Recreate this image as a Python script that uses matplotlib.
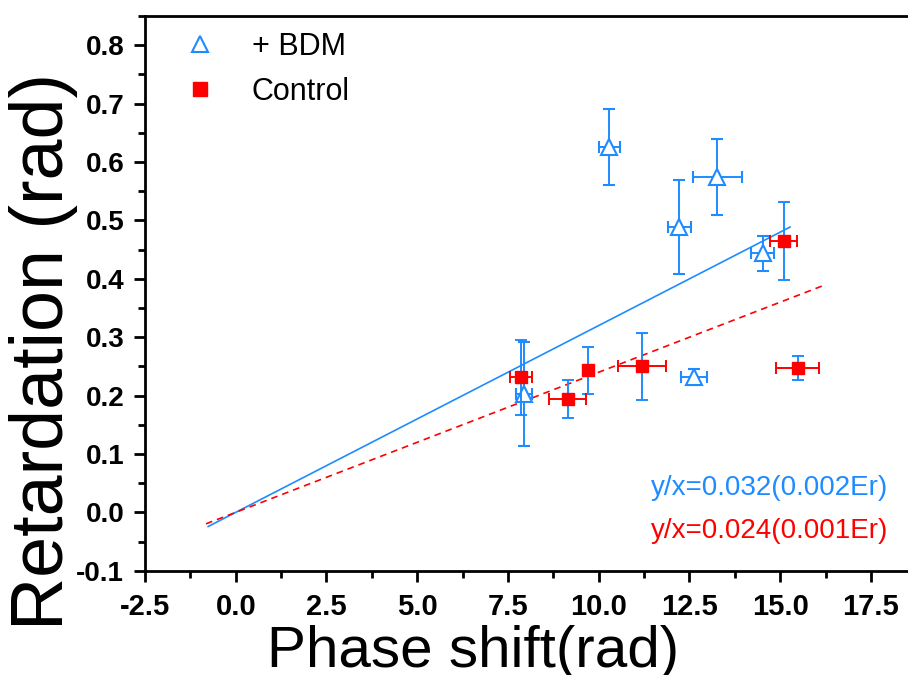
import matplotlib
matplotlib.use("Agg")
import matplotlib.pyplot as plt
import numpy as np
from matplotlib.lines import Line2D
from matplotlib.ticker import MultipleLocator

plt.rcParams["font.family"] = ["Liberation Sans", "DejaVu Sans"]

BLUE = "#1E8CFF"
RED = "#FF0000"

# + BDM
bdm_x = [7.93, 10.29, 12.22, 12.62, 13.27, 14.52]
bdm_y = [0.203, 0.626, 0.489, 0.232, 0.574, 0.444]
bdm_xerr = [0.22, 0.29, 0.32, 0.35, 0.68, 0.32]
bdm_yerr = [0.089, 0.065, 0.080, 0.014, 0.065, 0.030]

# Control
ctl_x = [7.85, 9.15, 9.70, 11.2, 15.1, 15.48]
ctl_y = [0.231, 0.194, 0.243, 0.250, 0.465, 0.247]
ctl_xerr = [0.30, 0.51, 0.0, 0.66, 0.37, 0.59]
ctl_yerr = [0.064, 0.033, 0.040, 0.057, 0.067, 0.020]

# linear fits through origin (y/x)
bdm_slope = 0.032
ctl_slope = 0.024
bdm_fit_range = [-0.76, 15.27]
ctl_fit_range = [-0.82, 16.26]

fig = plt.figure(figsize=(9.08, 6.75), dpi=100)
ax = fig.add_axes([0.1597, 0.1545, 0.8403, 0.8225])

fx = np.array(bdm_fit_range)
ax.plot(fx, bdm_slope * fx, color=BLUE, lw=1.2, zorder=1)
fx = np.array(ctl_fit_range)
ax.plot(fx, ctl_slope * fx, color=RED, lw=1.2, ls=(0, (4, 3)), zorder=1)

ebkw = dict(capsize=4.5, elinewidth=1.4, capthick=1.4, ls="none")
ax.errorbar(bdm_x, bdm_y, xerr=bdm_xerr, yerr=bdm_yerr, ecolor=BLUE,
            marker="^", ms=11, mfc="white", mec=BLUE, mew=1.5, zorder=3, **ebkw)
# control: horizontal bars red, vertical bars blue (as in the original)
ax.errorbar(ctl_x, ctl_y, yerr=ctl_yerr, ecolor=BLUE, fmt="none", zorder=4, **ebkw)
ax.errorbar(ctl_x, ctl_y, xerr=ctl_xerr, ecolor=RED,
            marker="s", ms=9, mfc=RED, mec=RED, zorder=5, **ebkw)

ax.set_xlim(-2.5, 18.52)
ax.set_ylim(-0.1, 0.851)
ax.xaxis.set_major_locator(MultipleLocator(2.5))
ax.xaxis.set_minor_locator(MultipleLocator(1.25))
ax.yaxis.set_major_locator(MultipleLocator(0.1))
ax.yaxis.set_minor_locator(MultipleLocator(0.05))
ax.xaxis.set_major_formatter(plt.FormatStrFormatter("%.1f"))
ax.yaxis.set_major_formatter(plt.FormatStrFormatter("%.1f"))
ax.tick_params(which="major", direction="out", length=8, width=2)
ax.tick_params(which="minor", direction="out", length=5, width=2)
ax.tick_params(axis="x", which="major", labelsize=21, pad=8)
ax.tick_params(axis="y", which="major", labelsize=20, pad=7)
for lab in ax.get_xticklabels() + ax.get_yticklabels():
    lab.set_fontweight("bold")
ax.spines["right"].set_visible(False)
for s in ("left", "bottom", "top"):
    ax.spines[s].set_linewidth(2)

ax.set_xlabel("Phase shift(rad)", fontsize=42)
ax.xaxis.set_label_coords(0.43, -0.097)
ax.set_ylabel("Retardation (rad)", fontsize=53)
ax.yaxis.set_label_coords(-0.088, 0.395)

handles = [
    Line2D([], [], ls="none", marker="^", ms=12, mfc="white", mec=BLUE, mew=1.5),
    Line2D([], [], ls="none", marker="s", ms=10, mfc=RED, mec=RED),
]
ax.legend(handles, ["+ BDM", "Control"], loc="upper left", bbox_to_anchor=(0.032, 0.971),
          frameon=False, fontsize=22, handlelength=2.0, handletextpad=0.7,
          labelspacing=0.5, borderpad=0, borderaxespad=0)

ax.text(0.974, 0.149, "y/x=0.032(0.002Er)", color=BLUE, fontsize=20,
        ha="right", va="center", transform=ax.transAxes)
ax.text(0.974, 0.0715, "y/x=0.024(0.001Er)", color=RED, fontsize=20,
        ha="right", va="center", transform=ax.transAxes)

fig.savefig("out.png", dpi=100)
